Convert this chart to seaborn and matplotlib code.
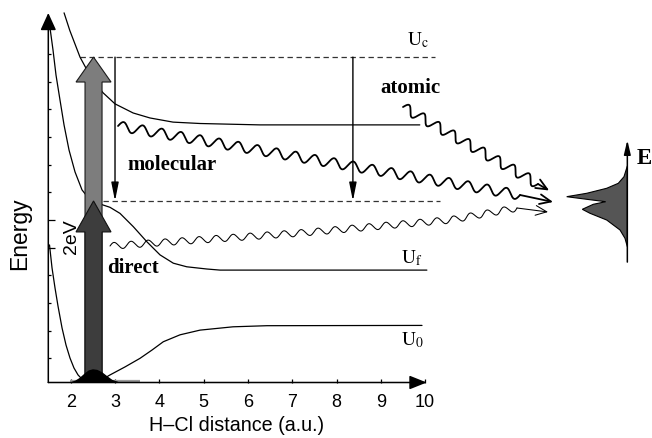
import numpy as np
import pandas as pd
import matplotlib
matplotlib.use("Agg")
import matplotlib.pyplot as plt
from matplotlib.patches import FancyArrow
import seaborn as sns

# ---------------- data (x: H-Cl distance in a.u., y: energy in tick units) ----------------
uc_x = [1.85, 1.98, 2.21, 2.44, 2.73, 3.00, 3.41, 3.79, 4.31, 4.92, 6.27, 9.88]
uc_y = [13.49, 12.85, 11.89, 11.21, 10.60, 10.20, 9.87, 9.69, 9.54, 9.49, 9.44, 9.44]

uf_x = [1.533, 1.600, 1.668, 1.758, 1.849, 1.962, 2.097, 2.255, 2.436, 2.594, 2.736,
        2.887, 3.113, 3.413, 3.716, 4.016, 4.316, 4.619, 5.070, 5.371, 10.04]
uf_y = [12.94, 12.15, 11.24, 10.34, 9.44, 8.53, 7.74, 7.09, 6.72, 6.62, 6.54,
        6.46, 6.24, 5.76, 5.22, 4.74, 4.44, 4.31, 4.23, 4.19, 4.19]

u0_x = [1.521, 1.578, 1.646, 1.713, 1.804, 1.894, 1.984, 2.074, 2.165, 2.255, 2.391, 2.571,
        2.729, 2.887, 3.226, 3.564, 3.835, 4.090, 4.467, 4.919, 5.664, 6.431, 9.930]
u0_y = [5.10, 4.27, 3.54, 2.89, 2.10, 1.48, 1.01, 0.65, 0.40, 0.25, 0.18, 0.18,
        0.25, 0.40, 0.69, 1.00, 1.30, 1.60, 1.85, 2.02, 2.14, 2.18, 2.19]

bump_x = [2.029, 2.120, 2.210, 2.323, 2.413, 2.503, 2.594, 2.707, 2.819, 2.932, 3.068]
bump_y = [0.127, 0.18, 0.27, 0.43, 0.54, 0.58, 0.56, 0.47, 0.33, 0.20, 0.127]

spec_x = [14.565, 14.490, 14.361, 14.099, 13.648, 13.196, 13.648, 14.077, 13.797, 13.549,
          13.722, 14.099, 14.400, 14.512, 14.565]
spec_y = [7.954, 7.567, 7.328, 7.148, 6.967, 6.844, 6.750, 6.663, 6.569, 6.388,
          6.244, 6.001, 5.640, 5.340, 5.036]

level_c = 11.89          # upper dashed level (U_c)
level_f = 6.69           # lower dashed level
level_c_x = [2.21, 10.22]
level_f_x = [2.73, 10.34]
drop_x = [3.0, 8.37]     # thin vertical arrows
pump_x = 2.515           # excitation arrows

# wavy emission paths (data coords), and arrow tips
atomic_path = [(9.501, 10.087), (12.549, 7.303)]
atomic_tip = (12.801, 7.068)
molecular_path = [(3.068, 9.400), (12.144, 6.905)]
molecular_tip = (12.889, 6.652)
direct_path = [(2.887, 5.061), (7.176, 5.531), (10.562, 6.002), (12.074, 6.435)]
direct_tip = (12.775, 6.291)

spec_line_x = 14.565
spec_line_y = [4.48, 8.89]

xticks = [2, 3, 4, 5, 6, 7, 8, 9, 10]
yticks_minor = [1, 2, 3, 4, 7, 8, 9, 10, 11, 12]
yticks_major = [5, 6]

# ---------------- style ----------------
sns.set_theme(style="white")
plt.rcParams["font.family"] = ["Liberation Sans", "DejaVu Sans"]
plt.rcParams["mathtext.fontset"] = "stix"
plt.rcParams["text.color"] = "black"
plt.rcParams["axes.labelcolor"] = "black"
plt.rcParams["xtick.color"] = "black"
plt.rcParams["ytick.color"] = "black"

fig = plt.figure(figsize=(6.52, 4.38), dpi=100)
fig.patch.set_facecolor("white")
ax = fig.add_axes([48.3 / 652, 1 - 382.5 / 438, (426.7 - 48.3) / 652, (382.5 - 13) / 438])
ax.set_facecolor("none")
ax.set_xlim(1.494, 10.036)
ax.set_ylim(0.1265, 13.485)
for s in ax.spines.values():
    s.set_visible(False)

# axis lines with arrowheads
ax.annotate("", xy=(1, 0), xytext=(0, 0), xycoords="axes fraction",
            arrowprops=dict(arrowstyle="-|>,head_length=1.05,head_width=0.42", mutation_scale=10,
                            lw=1.1, color="black", shrinkA=0, shrinkB=0), zorder=6)
ax.annotate("", xy=(0, 1), xytext=(0, 0), xycoords="axes fraction",
            arrowprops=dict(arrowstyle="-|>,head_length=1.05,head_width=0.48", mutation_scale=10,
                            lw=1.1, color="black", shrinkA=0, shrinkB=0), zorder=6)

ax.set_xticks(xticks)
ax.set_xticklabels([str(t) for t in xticks])
ax.set_yticks(yticks_major)
ax.set_yticks(yticks_minor, minor=True)
ax.set_yticklabels([])
ax.tick_params(axis="x", direction="in", length=2.6, width=0.9, pad=8, labelsize=13,
               colors="black", bottom=True)
ax.tick_params(axis="y", which="major", direction="in", length=5.2, width=0.9, left=True)
ax.tick_params(axis="y", which="minor", direction="in", length=2.4, width=0.9, left=True)

# ---------------- potential curves ----------------
curves = pd.concat([
    pd.DataFrame({"x": uc_x, "y": uc_y, "curve": "Uc"}),
    pd.DataFrame({"x": uf_x, "y": uf_y, "curve": "Uf"}),
    pd.DataFrame({"x": u0_x, "y": u0_y, "curve": "U0"}),
], ignore_index=True)
sns.lineplot(data=curves, x="x", y="y", hue="curve",
             palette={"Uc": "black", "Uf": "black", "U0": "black"},
             estimator=None, sort=False, legend=False, lw=0.9, ax=ax, zorder=2)
for ln in ax.get_lines():
    ln.set_clip_on(False)
ax.set_xlabel("H\u2013Cl distance (a.u.)", fontsize=14.2, color="black")
ax.xaxis.set_label_coords(0.497, -0.092)
ax.set_ylabel("Energy", fontsize=16.5, color="black")
ax.yaxis.set_label_coords(-0.045, 0.402)

# dashed levels
ax.hlines(level_c, *level_c_x, colors="#333333", linestyles=(0, (4.3, 2.9)), lw=0.9,
          clip_on=False, zorder=1)
ax.hlines(level_f, *level_f_x, colors="#333333", linestyles=(0, (4.3, 2.9)), lw=0.9,
          clip_on=False, zorder=1)

# excitation arrows
base = 0.1265
ax.add_patch(FancyArrow(pump_x, base, 0, level_c - base, width=0.384, head_width=0.79,
                        head_length=0.90, length_includes_head=True, fc="#7d7d7d",
                        ec="#1a1a1a", lw=0.8, zorder=3))
ax.add_patch(FancyArrow(pump_x, base, 0, level_f - base, width=0.384, head_width=0.79,
                        head_length=1.12, length_includes_head=True, fc="#3d3d3d",
                        ec="#111111", lw=0.8, zorder=3.5))

# ground state wave packet
ax.plot([1.98, 3.56], [0.17, 0.17], color="#9a9a9a", lw=1.6, zorder=4.5, solid_capstyle="butt")
ax.fill(bump_x, bump_y, color="black", zorder=5)

# thin vertical decay arrows
for xv in drop_x:
    ax.annotate("", xy=(xv, level_f), xytext=(xv, level_c), xycoords="data",
                arrowprops=dict(arrowstyle="-|>,head_length=1.1,head_width=0.22",
                                mutation_scale=10, lw=1.0, color="black",
                                shrinkA=0, shrinkB=0), zorder=4)


# wavy photon lines (decoration drawn along the paths in screen pixels)
def wavy(path, tip, amp_px, wl_px, lw):
    disp = ax.transData.transform(np.array(path))
    seg = np.diff(disp, axis=0)
    cum = np.concatenate([[0], np.cumsum(np.hypot(seg[:, 0], seg[:, 1]))])
    L = cum[-1]
    nwave = max(1, round(L / wl_px))
    wl = L / nwave
    s = np.linspace(0, L, 1200)
    px = np.interp(s, cum, disp[:, 0])
    py = np.interp(s, cum, disp[:, 1])
    dx = np.gradient(px)
    dy = np.gradient(py)
    n = np.hypot(dx, dy)
    off = amp_px * np.sin(2 * np.pi * s / wl)
    wx = px - dy / n * off
    wy = py + dx / n * off
    d = ax.transData.inverted().transform(np.column_stack([wx, wy]))
    ax.plot(d[:, 0], d[:, 1], color="black", lw=lw, clip_on=False, zorder=4,
            solid_joinstyle="round")
    ax.annotate("", xy=tip, xytext=path[-1], xycoords="data",
                arrowprops=dict(arrowstyle="->,head_length=0.8,head_width=0.35",
                                mutation_scale=10, lw=lw, color="black",
                                shrinkA=0, shrinkB=0), zorder=4, annotation_clip=False)


wavy(atomic_path, atomic_tip, 4.8, 16.5, 1.3)
wavy(molecular_path, molecular_tip, 4.8, 19.5, 1.3)
wavy(direct_path, direct_tip, 3.3, 17.4, 0.75)

# emission spectrum
ax.fill(spec_x, spec_y, fc="#555555", ec="black", lw=0.8, clip_on=False, zorder=4)
ax.annotate("", xy=(spec_line_x, spec_line_y[1]), xytext=(spec_line_x, spec_line_y[0]),
            xycoords="data",
            arrowprops=dict(arrowstyle="-|>,head_length=0.85,head_width=0.2", mutation_scale=10,
                            lw=1.1, color="black", shrinkA=0, shrinkB=0),
            zorder=5, annotation_clip=False)

# ---------------- text ----------------
serif = ["Liberation Serif", "DejaVu Serif"]
ax.text(8.98, 10.77, "atomic", family=serif, weight="bold", fontsize=15, ha="left",
        va="center", color="black", clip_on=False)
ax.text(3.29, 7.99, "molecular", family=serif, weight="bold", fontsize=15, ha="left",
        va="center", color="black")
ax.text(2.82, 4.27, "direct", family=serif, weight="bold", fontsize=15, ha="left",
        va="center", color="black")
ax.text(14.94, 8.24, "E", family=serif, weight="bold", fontsize=16.5, ha="center",
        va="center", color="black", clip_on=False)
ax.text(9.585, 12.33, r"$\mathrm{U_c}$", fontsize=14, ha="left", va="baseline", clip_on=False)
ax.text(9.465, 4.44, r"$\mathrm{U_f}$", fontsize=14, ha="left", va="baseline", clip_on=False)
ax.text(9.465, 1.48, r"$\mathrm{U_0}$", fontsize=14, ha="left", va="baseline", clip_on=False)
ax.text(2.018, 5.405, "2eV", fontsize=14, rotation=90, ha="center", va="center")

fig.savefig("out.png", dpi=100)
